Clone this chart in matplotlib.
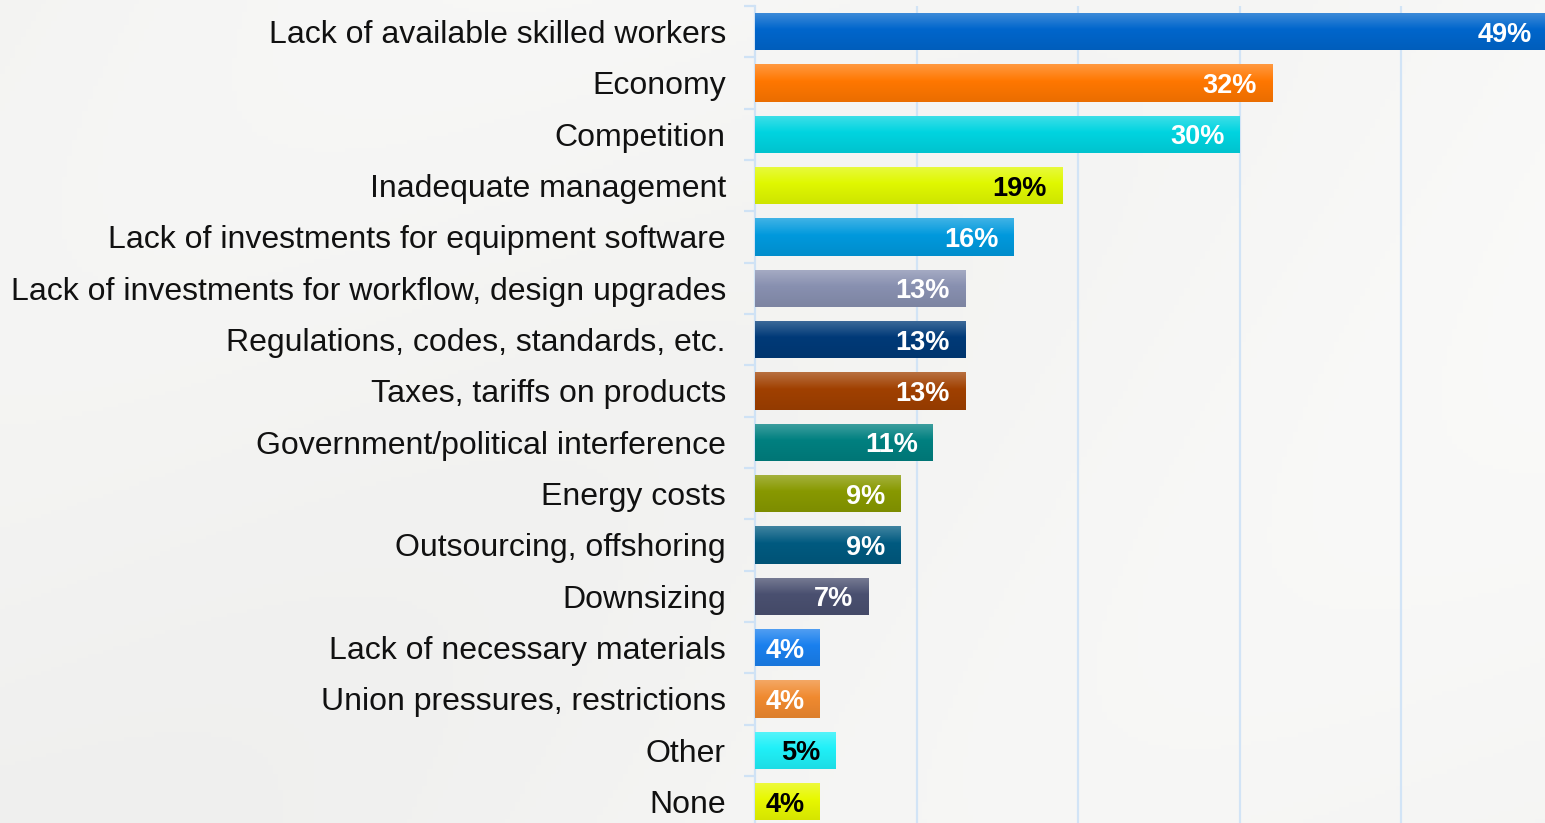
import numpy as np
import matplotlib
matplotlib.use("Agg")
import matplotlib.pyplot as plt
from matplotlib.colors import to_rgb

categories = [
    "Lack of available skilled workers",
    "Economy",
    "Competition",
    "Inadequate management",
    "Lack of investments for equipment software",
    "Lack of investments for workflow, design upgrades",
    "Regulations, codes, standards, etc.",
    "Taxes, tariffs on products",
    "Government/political interference",
    "Energy costs",
    "Outsourcing, offshoring",
    "Downsizing",
    "Lack of necessary materials",
    "Union pressures, restrictions",
    "Other",
    "None",
]
values = [49, 32, 30, 19, 16, 13, 13, 13, 11, 9, 9, 7, 4, 4, 5, 4]
bar_colors = ["#0066cc", "#ff7700", "#00d4e0", "#e0f800", "#0099dd", "#8890b0",
              "#003a78", "#a04000", "#008080", "#889900", "#005a80", "#4a5070",
              "#1a80ee", "#f08a30", "#20f0f8", "#e8f800"]
label_colors = ["white", "white", "white", "black", "white", "white", "white", "white",
                "white", "white", "white", "white", "white", "white", "black", "black"]

W, H, DPI = 1545, 823, 100
fig = plt.figure(figsize=(W / DPI, H / DPI), dpi=DPI)

# background
bg = fig.add_axes([0, 0, 1, 1], zorder=-10)
yy, xx = np.mgrid[0:1:200j, 0:1:300j]
base = 0.955 + 0.02 * xx - 0.01 * yy + 0.008 * np.sin(6 * xx + 4 * yy)
bg.imshow(np.dstack([base, base, base * 0.995]).clip(0, 1), aspect="auto",
          extent=[0, 1, 0, 1])
bg.axis("off")

top_px, row_px = 6, 51.33
n = len(categories)
ax_h = n * row_px
ax = fig.add_axes([755 / W, 1 - (top_px + ax_h) / H, 1 - 755 / W, ax_h / H])
ax.patch.set_alpha(0)

y = np.arange(n)
bh = 0.73
bars = ax.barh(y, values, height=bh, color=bar_colors, zorder=3)

# vertical gradient on each bar
for b, c in zip(bars, bar_colors):
    r, g, bb = to_rgb(c)
    t = np.linspace(0, 1, 50)[:, None]
    light = np.clip(np.array([r, g, bb]) + (1 - np.array([r, g, bb])) * 0.25, 0, 1)
    dark = np.array([r, g, bb]) * 0.92
    mid = np.array([r, g, bb])
    grad = np.where(t < 0.45, light + (mid - light) * (t / 0.45),
                    mid + (dark - mid) * ((t - 0.45) / 0.55))
    img = np.repeat(grad[:, None, :], 2, axis=1).reshape(50, 2, 3)
    x0, y0 = b.get_x(), b.get_y()
    im = ax.imshow(img, aspect="auto", extent=[x0, x0 + b.get_width(), y0 + b.get_height(), y0],
                   zorder=3.5, interpolation="bilinear")
    im.set_clip_path(b)

for b, v, lc in zip(bars, values, label_colors):
    ax.annotate(f"{v}%", xy=(v, b.get_y() + b.get_height() / 2), xytext=(-15, -3),
                textcoords="offset pixels", ha="right", va="center",
                fontsize=19.5, fontweight="bold", color=lc, family="Liberation Sans",
                zorder=5, annotation_clip=False)

ax.set_xlim(0, 790 / 16.16)
ax.set_ylim(n - 0.5, -0.5)
ax.set_xticks([10, 20, 30, 40])
ax.set_xticklabels([])
ax.tick_params(axis="x", length=0)
ax.grid(axis="x", color="#d2e4f6", linewidth=1.6, zorder=1)

ax.set_yticks(y)
ax.set_yticklabels(categories, fontsize=23, family="Liberation Sans", color="#111111")
ax.tick_params(axis="y", length=0, pad=21)
ax.set_yticks(np.arange(n + 1) - 0.5, minor=True)
ax.tick_params(axis="y", which="minor", length=8, width=1.6, color="#cfe2f5")

for s in ["top", "right", "bottom"]:
    ax.spines[s].set_visible(False)
ax.spines["left"].set_color("#cfe2f5")
ax.spines["left"].set_linewidth(1.6)

fig.savefig("out.png", dpi=DPI)
